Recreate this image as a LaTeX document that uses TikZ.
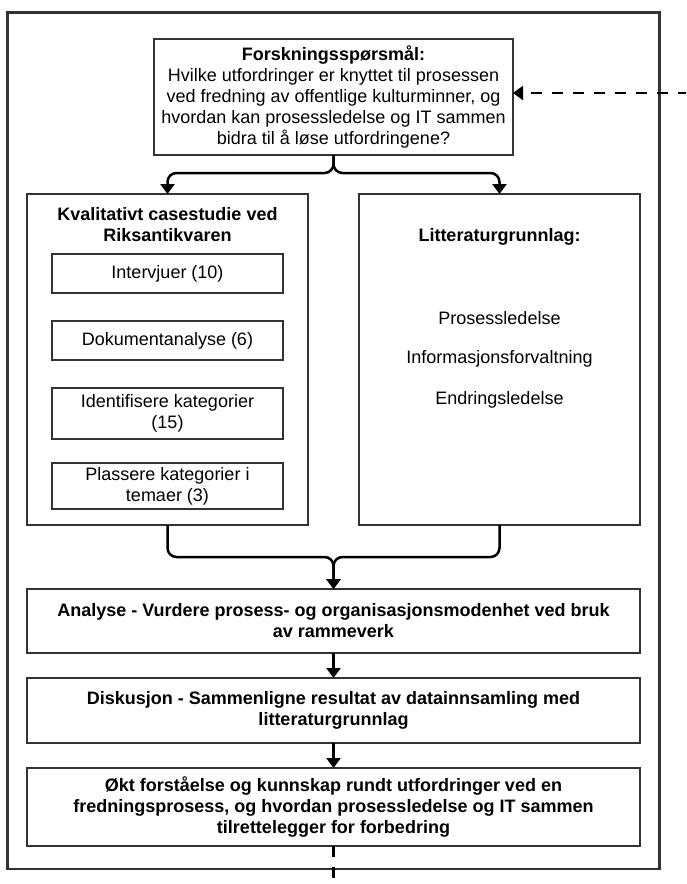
\documentclass[tikz,border=0pt]{standalone}
\usepackage{fontspec}
\setmainfont{Liberation Sans}
\usetikzlibrary{arrows.meta}
\definecolor{edge}{RGB}{51,51,51}
\begin{document}
\begin{tikzpicture}[x=1pt,y=-1pt,
  box/.style={draw=edge,line width=2.2pt,rectangle,inner sep=0pt,outer sep=0pt,align=center,
    font=\fontsize{18}{21}\selectfont},
  boldbox/.style={box,font=\fontsize{18}{21}\selectfont\bfseries},
  txt/.style={inner sep=0pt,align=center,font=\fontsize{18}{21}\selectfont},
  boldtxt/.style={txt,font=\fontsize{18}{21}\selectfont\bfseries},
  tip/.style={-{Triangle[width=14pt,length=10pt]}},
  flow/.style={line width=2.5pt,tip},
  brace/.style={flow,rounded corners=9pt},
  loopback/.style={line width=2.5pt,dash pattern=on 11pt off 10pt,tip}
]
\useasboundingbox (0,0) rectangle (686,884);
\fill[white] (0,0) rectangle (686,884);

% outer frame
\draw[edge,line width=2.2pt] (7.5,12.5) rectangle (659.5,869);

% research question
\node[box,minimum width=359pt,minimum height=116pt] (question) at (333.5,97)
  {\textbf{Forskningsspørsmål:}\\
   Hvilke utfordringer er knyttet til prosessen\\
   ved fredning av offentlige kulturminner, og\\
   hvordan kan prosessledelse og IT sammen\\
   bidra til å løse utfordringene?};

% case study column
\node[box,minimum width=281pt,minimum height=331pt] (casebox) at (167.5,359.5) {};
\node[boldtxt] (casetitle) at (167.5,225) {Kvalitativt casestudie ved\\Riksantikvaren};
\node[box,minimum width=231pt,minimum height=39pt] (interviews) at (167.5,273.5) {Intervjuer (10)};
\node[box,minimum width=231pt,minimum height=39pt] (documents) at (167.5,340.5) {Dokumentanalyse (6)};
\node[box,minimum width=231pt,minimum height=51pt] (categories) at (167.5,413.5) {Identifisere kategorier\\(15)};
\node[box,minimum width=231pt,minimum height=46pt] (themes) at (167.5,486) {Plassere kategorier i\\temaer (3)};

% literature column
\node[box,minimum width=281pt,minimum height=331pt] (litbox) at (499.5,359.5) {};
\node[boldtxt] (littitle) at (499.5,237) {Litteraturgrunnlag:};
\node[txt] (lit1) at (499.5,318) {Prosessledelse};
\node[txt] (lit2) at (499.5,359) {Informasjonsforvaltning};
\node[txt] (lit3) at (499.5,400) {Endringsledelse};

% analysis chain
\node[boldbox,minimum width=613pt,minimum height=64pt] (analysis) at (333.5,621)
  {Analyse - Vurdere prosess- og organisasjonsmodenhet ved bruk\\av rammeverk};
\node[boldbox,minimum width=613pt,minimum height=65pt] (discussion) at (333.5,710.5)
  {Diskusjon - Sammenligne resultat av datainnsamling med\\litteraturgrunnlag};
\node[boldbox,minimum width=613pt,minimum height=78pt] (result) at (333.5,807)
  {Økt forståelse og kunnskap rundt utfordringer ved en\\
   fredningsprosess, og hvordan prosessledelse og IT sammen\\
   tilrettelegger for forbedring};

% split brace below the question
\coordinate (splitY) at (0,173);
\draw[brace] (question.south) -- (question.south |- splitY) -- (casebox.north |- splitY) -- (casebox.north);
\draw[brace] (question.south) -- (question.south |- splitY) -- (litbox.north |- splitY) -- (litbox.north);

% merge brace into the analysis
\coordinate (mergeY) at (0,557);
\draw[brace] (casebox.south) -- (casebox.south |- mergeY) -- (analysis.north |- mergeY) -- (analysis.north);
\draw[brace] (litbox.south) -- (litbox.south |- mergeY) -- (analysis.north |- mergeY) -- (analysis.north);

% straight steps
\draw[flow] (analysis) -- (discussion);
\draw[flow] (discussion) -- (result);

% dashed feedback loop back to the question
\coordinate (loopA) at (333.5,900);
\coordinate (loopB) at (700,900);
\coordinate (loopC) at (700,93);
\coordinate (loopEnd) at ([yshift=4pt]question.east);
\begin{scope}
  \clip (0,0) rectangle (686,884);
  \draw[loopback] (result.south) -- (loopA) -- (loopB) -- (loopC) -- (loopEnd);
\end{scope}
\end{tikzpicture}
\end{document}
